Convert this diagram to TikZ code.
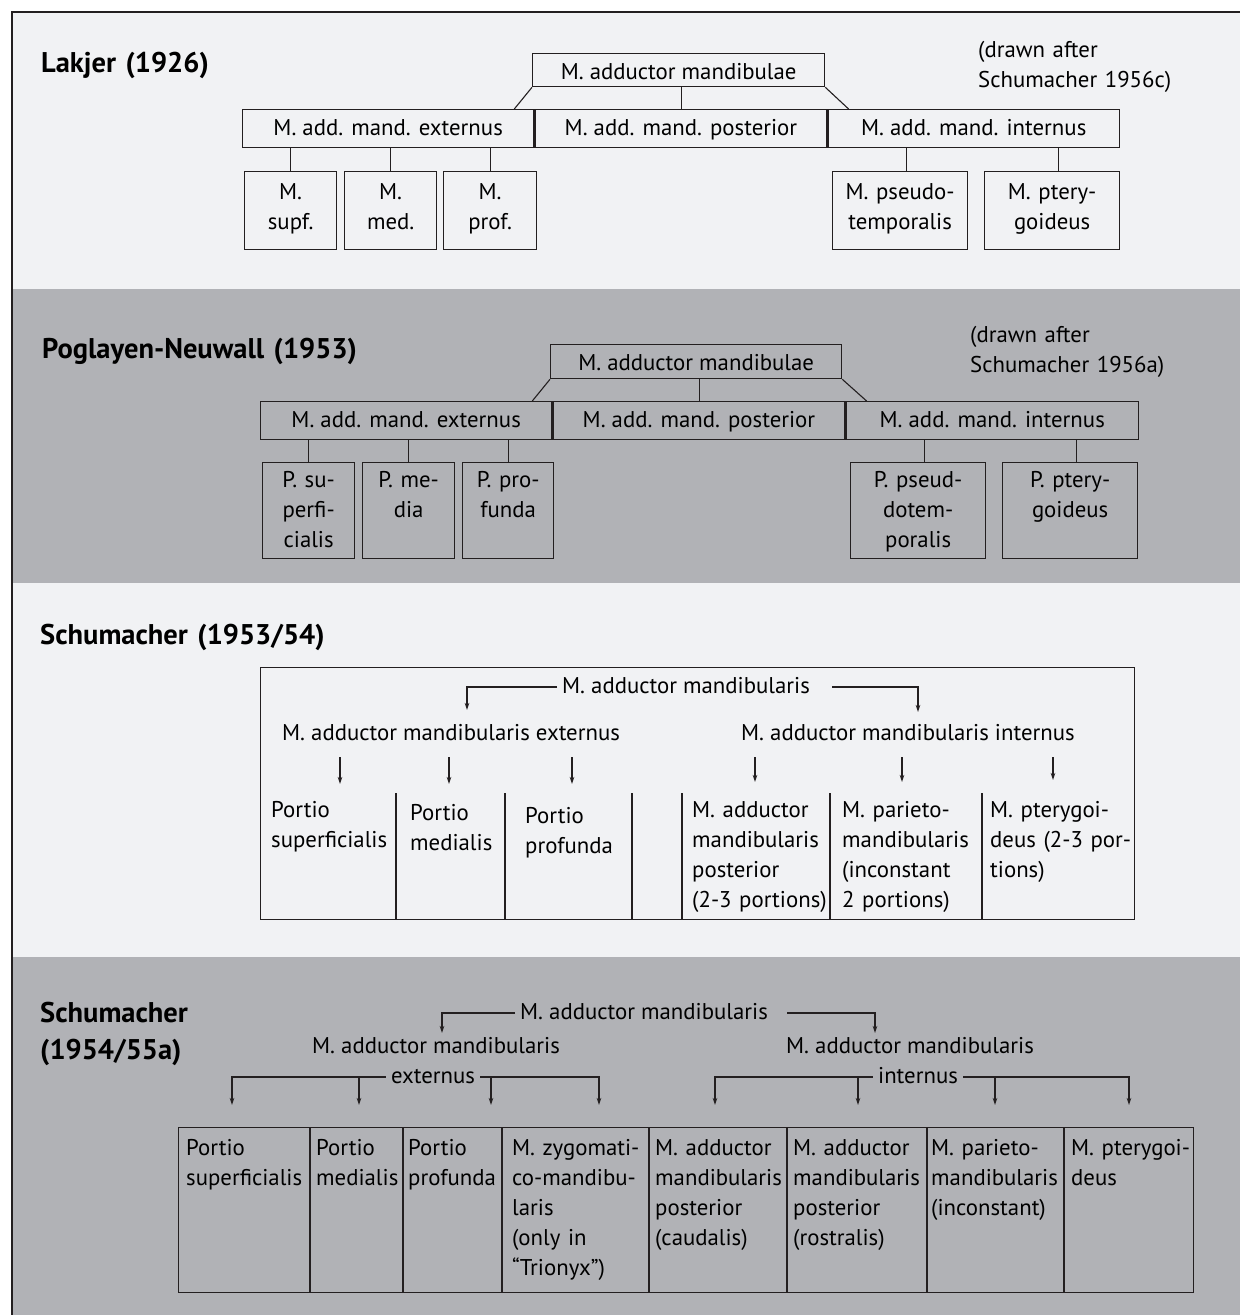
\documentclass[tikz,border=0pt]{standalone}
\usepackage{fontspec}
\setmainfont{PT Sans}
\usetikzlibrary{arrows.meta,positioning,calc}
\definecolor{paperlight}{HTML}{F1F2F4}
\definecolor{papergray}{HTML}{B1B2B6}
\definecolor{ink}{HTML}{231F20}

\begin{document}
\begin{tikzpicture}[x=1pt, y=-1pt, font=\fontsize{22.8}{30}\selectfont,
    box/.style={draw=ink, line width=1.3pt, inner sep=0pt, anchor=north west},
    headbox/.style={box, minimum height=33pt, text height=20pt, text depth=2pt},
    rowbox/.style={box, minimum height=38pt, text height=17pt, text depth=3pt},
    leafA/.style={box, inner xsep=2pt, align=center, text height=28pt, text depth=50pt},
    leafB/.style={box, inner xsep=2pt, align=center, text height=25pt, text depth=71pt},
    plain/.style={inner xsep=5pt, inner ysep=0pt, text height=17pt, text depth=5pt, anchor=base west},
    cell/.style={inner sep=0pt, anchor=base west, align=left, text width=150pt},
    title/.style={inner sep=0pt, anchor=base west, align=left, text width=340pt,
                  font=\fontsize{28.5}{37}\selectfont\bfseries},
    note/.style={inner sep=0pt, anchor=base west, align=left, text width=260pt},
    wire/.style={draw=ink, line width=1.1pt},
    arr/.style={wire, -{Stealth[length=7pt, width=4.5pt]}}]
    \useasboundingbox (0,0) rectangle (1240,1315);

    % panels
    \fill[paperlight] (12,12) rectangle (1240,289);
    \fill[papergray] (12,289) rectangle (1240,583);
    \fill[paperlight] (12,583) rectangle (1240,957);
    \fill[papergray] (12,957) rectangle (1240,1315);
    \draw[ink, line width=2.5pt] (12,1320) -- (12,12) -- (1245,12);

    % Lakjer
    \node[title] (lakjer) at (41,72) {Lakjer (1926)};
    \node[note] (note1) at (978,57) {(drawn after\\Schumacher 1956c)};
    \node[headbox, minimum width=292pt] (top1) at (532,53) {M. adductor mandibulae};
    \node[rowbox, minimum width=291pt] (ext1) at (242,109) {M. add. mand. externus};
    \node[rowbox, minimum width=292pt, right=0pt of ext1] (post1) {M. add. mand. posterior};
    \node[rowbox, minimum width=291pt, right=0pt of post1] (int1) {M. add. mand. internus};
    \node[leafA, text width=88pt] (sup1) at (244,171) {M.\\supf.};
    \node[leafA, text width=88pt] (med1) at (344,171) {M.\\med.};
    \node[leafA, text width=89pt] (prof1) at (443,171) {M.\\prof.};
    \node[leafA, text width=131pt] (pseu1) at (832,171) {M. pseudo-\\temporalis};
    \node[leafA, text width=131pt] (pter1) at (984,171) {M. ptery-\\goideus};

    \draw[wire] (top1.south west) -- ($(ext1.north east)+(-20,0)$);
    \draw[wire] ([xshift=3pt]top1.south) -- ([xshift=3pt]top1.south |- post1.north);
    \draw[wire] (top1.south east) -- ($(int1.north west)+(21,0)$);
    \foreach \n in {sup1,med1,prof1}
        \draw[wire] (\n.north) -- (\n.north |- ext1.south);
    \foreach \n in {pseu1,pter1}
        \draw[wire] ([xshift=6pt]\n.north) -- ([xshift=6pt]\n.north |- int1.south);

    % Poglayen-Neuwall
    \node[title] (pogl) at (42,358) {Poglayen-Neuwall (1953)};
    \node[note] (note2) at (970,342) {(drawn after\\Schumacher 1956a)};
    \node[headbox, minimum width=291pt, minimum height=34pt] (top2) at (550,344) {M. adductor mandibulae};
    \node[rowbox, minimum width=291pt] (ext2) at (260,401) {M. add. mand. externus};
    \node[rowbox, minimum width=292pt, right=0pt of ext2] (post2) {M. add. mand. posterior};
    \node[rowbox, minimum width=292pt, right=0pt of post2] (int2) {M. add. mand. internus};
    \node[leafB, text width=88pt] (sup2) at (262,462) {P. su-\\perfi-\\cialis};
    \node[leafB, text width=88pt] (med2) at (362,462) {P. me-\\dia};
    \node[leafB, text width=87pt] (prof2) at (462,462) {P. pro-\\funda};
    \node[leafB, text width=131pt] (pseu2) at (850,462) {P. pseud-\\dotem-\\poralis};
    \node[leafB, text width=131pt] (pter2) at (1002,462) {P. ptery-\\goideus};

    \draw[wire] (top2.south west) -- ($(ext2.north east)+(-20,0)$);
    \draw[wire] ([xshift=3pt]top2.south) -- ([xshift=3pt]top2.south |- post2.north);
    \draw[wire] (top2.south east) -- ($(int2.north west)+(21,0)$);
    \foreach \n in {sup2,med2,prof2}
        \draw[wire] (\n.north) -- (\n.north |- ext2.south);
    \foreach \n in {pseu2,pter2}
        \draw[wire] ([xshift=6pt]\n.north) -- ([xshift=6pt]\n.north |- int2.south);

    % Schumacher 1953/54
    \node[title] (schu3) at (40,644) {Schumacher (1953/54)};
    \node[box, minimum width=874pt, minimum height=252pt] (frame3) at (260,667) {};
    \node[plain] (root3) at (557,693) {M. adductor mandibularis};
    \node[plain] (ext3) at (277,740) {M. adductor mandibularis externus};
    \node[plain] (int3) at (736,740) {M. adductor mandibularis internus};
    \coordinate (t31) at (467,710);
    \coordinate (t32) at (918,712);
    \draw[arr] (root3.west) -| (t31);
    \draw[arr] ([xshift=17pt]root3.east) -| (t32);
    \coordinate (d31) at (340,784);
    \coordinate (d32) at (449,784);
    \coordinate (d33) at (572,784);
    \coordinate (d35) at (755,782);
    \coordinate (d36) at (902,782);
    \coordinate (d37) at (1053,780);
    \foreach \d in {d31,d32,d33}
        \draw[arr] ([yshift=-12pt]\d |- ext3.south) -- (\d);
    \foreach \d in {d35,d36,d37}
        \draw[arr] ([yshift=-12pt]\d |- int3.south) -- (\d);
    \foreach \x in {396,505,632,682,830,982}
        \draw[wire, line width=1.3pt] (\x,793) -- (\x,0 |- frame3.south);
    \node[cell] (c31) at (271,817) {Portio\\superficialis};
    \node[cell] (c32) at (410,820) {Portio\\medialis};
    \node[cell] (c33) at (525,823) {Portio\\profunda};
    \node[cell] (c35) at (692,817) {M. adductor\\mandibularis\\posterior\\(2-3 portions)};
    \node[cell] (c36) at (842,817) {M. parieto-\\mandibularis\\(inconstant\\2 portions)};
    \node[cell] (c37) at (990,817) {M. pterygoi-\\deus (2-3 por-\\tions)};

    % Schumacher 1954/55a
    \node[title] (schu4) at (40,1022) {Schumacher\\(1954/55a)};
    \node[plain] (root4) at (515,1019) {M. adductor mandibularis};
    \node[plain] (ext4) at (307,1053) {M. adductor mandibularis};
    \node[plain, anchor=base] (ext4x) at ([yshift=-30pt, xshift=-3pt]ext4.base) {externus};
    \node[plain] (int4) at (781,1053) {M. adductor mandibularis};
    \node[plain, anchor=base] (int4x) at ([yshift=-30pt, xshift=8pt]int4.base) {internus};
    \coordinate (t41) at (442,1033);
    \coordinate (t42) at (875,1033);
    \draw[arr] (root4.west) -| (t41);
    \draw[arr] ([xshift=14pt]root4.east) -| (t42);
    \coordinate (e41) at (232,1105);
    \coordinate (e42) at (359,1105);
    \coordinate (e43) at (491,1105);
    \coordinate (e44) at (599,1105);
    \coordinate (f41) at (715,1105);
    \coordinate (f42) at (858,1105);
    \coordinate (f43) at (995,1105);
    \coordinate (f44) at (1129,1105);
    \draw[arr] (ext4x.west) -| (e41);
    \draw[arr] (e42 |- ext4x.west) -- (e42);
    \draw[arr] (ext4x.east) -| (e44);
    \draw[arr] (e43 |- ext4x.east) -- (e43);
    \draw[arr] (int4x.west) -| (f41);
    \draw[arr] (f42 |- int4x.west) -- (f42);
    \draw[arr] (int4x.east) -| (f44);
    \draw[arr] (f43 |- int4x.east) -- (f43);
    \node[box, minimum width=1015pt, minimum height=165pt] (frame4) at (178,1127) {};
    \foreach \x in {310,403,502,649,787,927,1064}
        \draw[wire, line width=1.3pt] (\x,0 |- frame4.north) -- (\x,0 |- frame4.south);
    \node[cell] (c41) at (186,1155) {Portio\\superficialis};
    \node[cell] (c42) at (316,1155) {Portio\\medialis};
    \node[cell] (c43) at (408,1155) {Portio\\profunda};
    \node[cell] (c44) at (512,1155) {M. zygomati-\\co-mandibu-\\laris\\(only in\\“Trionyx”)};
    \node[cell] (c45) at (655,1155) {M. adductor\\mandibularis\\posterior\\(caudalis)};
    \node[cell] (c46) at (793,1155) {M. adductor\\mandibularis\\posterior\\(rostralis)};
    \node[cell] (c47) at (931,1155) {M. parieto-\\mandibularis\\(inconstant)};
    \node[cell] (c48) at (1071,1155) {M. pterygoi-\\deus};
\end{tikzpicture}
\end{document}
